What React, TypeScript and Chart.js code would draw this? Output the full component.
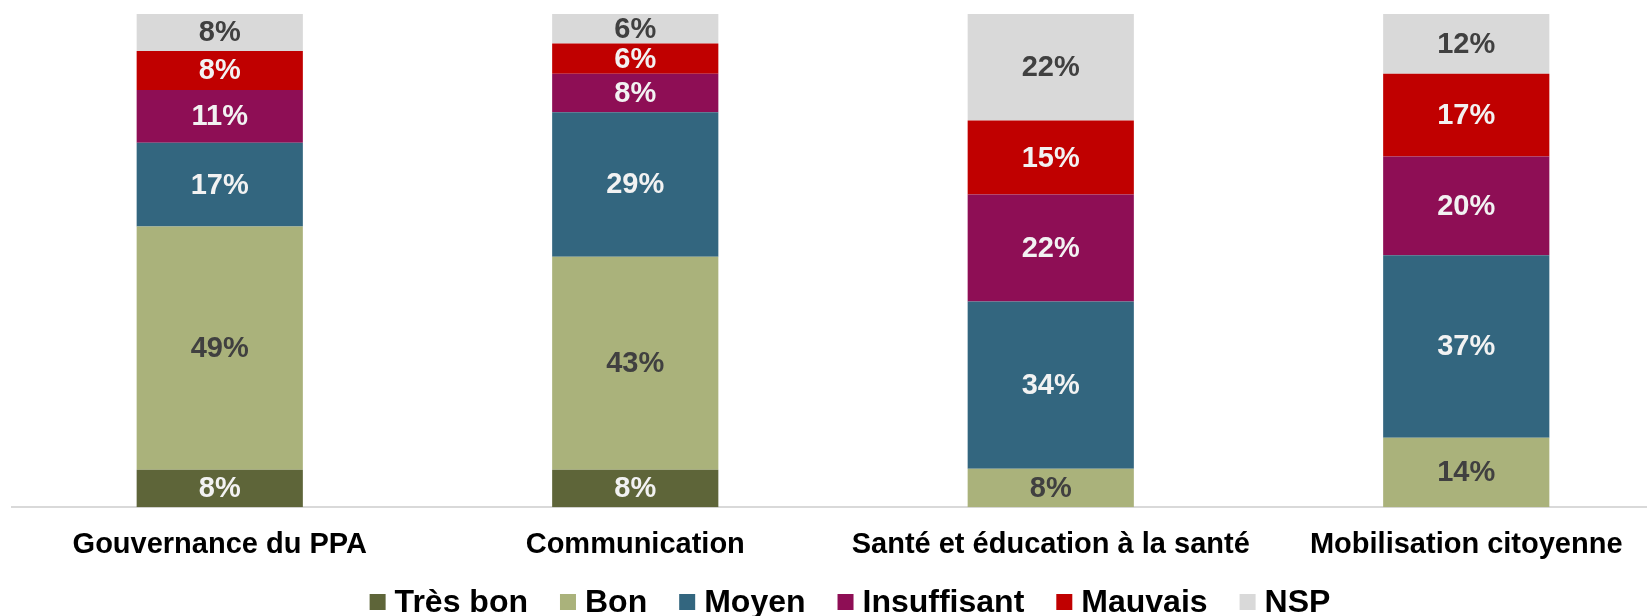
import React, { useEffect, useRef } from "react";
import { Chart, registerables } from "chart.js";

Chart.register(...registerables);

const categories = [
  "Gouvernance du PPA",
  "Communication",
  "Santé et éducation à la santé",
  "Mobilisation citoyenne",
];
const seriesNames = ["Très bon", "Bon", "Moyen", "Insuffisant", "Mauvais", "NSP"];
const tresBon = [7.6, 7.6, 0, 0];
const bon = [49.3, 43.2, 7.8, 14.1];
const moyen = [17.0, 29.3, 33.9, 37.0];
const insuffisant = [10.7, 7.8, 21.7, 20.0];
const mauvais = [7.9, 6.1, 15.0, 16.8];
const nsp = [7.5, 6.0, 21.6, 12.1];

const seriesColors = ["#5e6539", "#aab27b", "#33667f", "#8e0e55", "#c00000", "#d9d9d9"];
const labelColors = ["#f2f2f2", "#404040", "#f2f2f2", "#f2f2f2", "#f2f2f2", "#404040"];

const FONT = "'Liberation Sans', Arial, sans-serif";

const labelPlugin = {
  id: "segLabels",
  afterDatasetsDraw(chart: any) {
    const ctx = chart.ctx;
    ctx.save();
    ctx.font = `bold 29px ${FONT}`;
    ctx.textAlign = "center";
    ctx.textBaseline = "middle";
    chart.data.datasets.forEach((ds: any, di: number) => {
      const meta = chart.getDatasetMeta(di);
      meta.data.forEach((el: any, i: number) => {
        const v = ds.data[i];
        if (!v) return;
        const { x, y, base } = el.getProps(["x", "y", "base"], true);
        ctx.fillStyle = labelColors[di];
        ctx.fillText(`${Math.round(v)}%`, x, (y + base) / 2 + 1);
      });
    });
    ctx.restore();
  },
};

const legendPlugin = {
  id: "customLegend",
  afterDraw(chart: any) {
    const ctx = chart.ctx;
    ctx.save();
    ctx.font = `bold 32px ${FONT}`;
    ctx.textBaseline = "middle";
    ctx.textAlign = "left";
    const box = 16;
    const boxGap = 9;
    const itemGap = 32;
    const items = chart.data.datasets.map((ds: any) => ({
      text: ds.label,
      color: ds.backgroundColor,
      w: ctx.measureText(ds.label).width,
    }));
    const total =
      items.reduce((s: number, it: any) => s + box + boxGap + it.w, 0) + itemGap * (items.length - 1);
    const cy = 602;
    let x = 850 - total / 2;
    items.forEach((it: any) => {
      ctx.fillStyle = it.color;
      ctx.fillRect(x, cy - box / 2, box, box);
      ctx.fillStyle = "#000";
      ctx.fillText(it.text, x + box + boxGap, cy + 1);
      x += box + boxGap + it.w + itemGap;
    });
    ctx.restore();
  },
};

export default function App() {
  const ref = useRef<HTMLCanvasElement>(null);
  useEffect(() => {
    document.body.style.margin = "0";
    document.body.style.overflow = "hidden";
    const all = [tresBon, bon, moyen, insuffisant, mauvais, nsp];
    const chart = new Chart(ref.current!, {
      type: "bar",
      data: {
        labels: categories,
        datasets: all.map((d, i) => ({
          label: seriesNames[i],
          data: d,
          backgroundColor: seriesColors[i],
          borderWidth: 0,
          categoryPercentage: 0.4,
          barPercentage: 1,
        })),
      },
      options: {
        animation: false,
        responsive: false,
        devicePixelRatio: 1,
        layout: { padding: { left: 12, right: 2, top: 14, bottom: 34 } },
        plugins: {
          legend: { display: false },
          tooltip: { enabled: false },
        },
        scales: {
          x: {
            stacked: true,
            grid: { display: false, drawTicks: false },
            border: { display: true, color: "#d9d9d9", width: 2 },
            ticks: {
              padding: 20,
              color: "#000",
              maxRotation: 0,
              autoSkip: false,
              font: { family: FONT, size: 29, weight: "bold" },
            },
          },
          y: {
            stacked: true,
            display: false,
            min: 0,
            max: 100,
          },
        },
      },
      plugins: [labelPlugin, legendPlugin],
    });
    return () => chart.destroy();
  }, []);
  return (
    <div style={{ position: "fixed", left: 0, top: 0, width: 1647, height: 616, overflow: "hidden", background: "#fff" }}>
      <canvas ref={ref} width={1676} height={616} style={{ width: 1676, height: 616 }} />
    </div>
  );
}
